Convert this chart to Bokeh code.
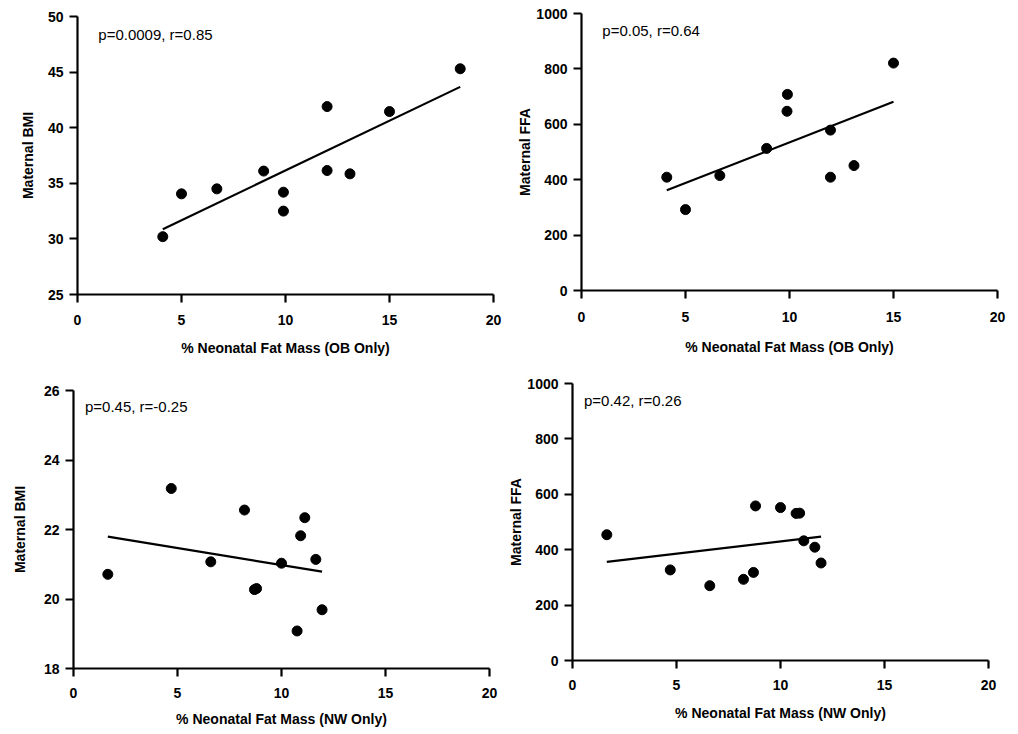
import numpy as np
from bokeh.plotting import figure
from bokeh.layouts import row, column
from bokeh.models import Range1d, FixedTicker, Label
from bokeh.embed import file_html
from bokeh.resources import INLINE

# ---------------- data ----------------
# OB group: % neonatal fat mass vs maternal BMI
ob_bmi_fat = [4.1, 5.0, 6.7, 8.95, 9.9, 9.9, 12.0, 12.0, 13.1, 15.0, 18.4]
ob_bmi = [30.2, 34.05, 34.5, 36.1, 34.2, 32.5, 41.9, 36.15, 35.85, 41.45, 45.3]

# OB group: % neonatal fat mass vs maternal FFA
ob_ffa_fat = [4.1, 5.0, 6.65, 8.9, 9.9, 9.88, 11.97, 11.97, 13.1, 15.0]
ob_ffa = [409, 292, 415, 513, 708, 647, 579, 409, 451, 821]

# NW group
nw_fat = [1.65, 4.7, 6.6, 8.22, 8.7, 8.8, 10.0, 10.75, 10.92, 11.12, 11.65, 11.95]
nw_bmi = [20.71, 23.18, 21.07, 22.56, 20.27, 20.3, 21.03, 19.08, 21.82, 22.34, 21.14, 19.69]
nw_ffa = [454, 327, 270, 293, 318, 558, 552, 531, 532, 432, 409, 352]

x_ticks = [0, 5, 10, 15, 20]
bmi_ob_ticks = [25, 30, 35, 40, 45, 50]
bmi_nw_ticks = [18, 20, 22, 24, 26]
ffa_ticks = [0, 200, 400, 600, 800, 1000]

stats = ["p=0.0009, r=0.85", "p=0.05, r=0.64", "p=0.45, r=-0.25", "p=0.42, r=0.26"]
x_labels = ["% Neonatal Fat Mass (OB Only)", "% Neonatal Fat Mass (NW Only)"]
y_labels = ["Maternal BMI", "Maternal FFA"]

FONT = "Liberation Sans"


def panel(x, y, yr, yticks, xlabel, ylabel, note, note_pos, w, h,
          bl, br, bt, bb, ylab_standoff, xlab_standoff=12, xtick_standoff=12):
    p = figure(width=w, height=h, x_range=Range1d(0, 20), y_range=Range1d(*yr),
               output_backend="svg", toolbar_location=None,
               min_border_left=bl, min_border_right=br,
               min_border_top=bt, min_border_bottom=bb,
               background_fill_color="white", border_fill_color="white")
    p.outline_line_color = None
    p.xgrid.visible = False
    p.ygrid.visible = False
    p.xaxis.ticker = FixedTicker(ticks=x_ticks)
    p.yaxis.ticker = FixedTicker(ticks=yticks)
    for ax in (p.xaxis, p.yaxis):
        ax.axis_line_width = 2.2
        ax.axis_line_color = "black"
        ax.major_tick_line_width = 2.2
        ax.major_tick_line_color = "black"
        ax.major_tick_out = 8
        ax.major_tick_in = 0
        ax.minor_tick_line_color = None
        ax.major_label_text_font = FONT
        ax.major_label_text_font_style = "bold"
        ax.major_label_text_font_size = "14px"
        ax.major_label_text_color = "black"
        ax.major_label_text_line_height = 1.0
        ax.axis_label_text_font = FONT
        ax.axis_label_text_font_style = "bold"
        ax.axis_label_text_font_size = "14px"
        ax.axis_label_text_color = "black"
        ax.axis_label_text_line_height = 1.0
    p.xaxis.axis_label = xlabel
    p.yaxis.axis_label = ylabel
    p.xaxis.major_label_standoff = xtick_standoff
    p.xaxis.axis_label_standoff = xlab_standoff
    p.yaxis.major_label_standoff = 6
    p.yaxis.axis_label_standoff = ylab_standoff

    # least-squares regression line over the data range
    xa = np.asarray(x, dtype=float)
    ya = np.asarray(y, dtype=float)
    slope, icpt = np.polyfit(xa, ya, 1)
    fx = np.array([xa.min(), xa.max()])
    p.line(fx, slope * fx + icpt, line_width=2.2, line_color="black")
    p.scatter(x, y, size=10, fill_color="black", line_color="black")

    p.add_layout(Label(x=note_pos[0], y=note_pos[1], text=note,
                       text_font=FONT, text_font_size="15px", text_color="black",
                       text_align="left", text_baseline="alphabetic"))
    return p


p1 = panel(ob_bmi_fat, ob_bmi, (25, 50), bmi_ob_ticks, x_labels[0], y_labels[0],
           stats[0], (1.0, 48.4), 505, 370, 77, 12, 16, 76, 9)
p2 = panel(ob_ffa_fat, ob_ffa, (0, 1000), ffa_ticks, x_labels[0], y_labels[1],
           stats[1], (1.0, 940), 513, 370, 76, 21, 13, 80, 0,
           xlab_standoff=14, xtick_standoff=13)
p3 = panel(nw_fat, nw_bmi, (18, 26), bmi_nw_ticks, x_labels[1], y_labels[0],
           stats[2], (0.55, 25.54), 505, 364, 73, 16, 20, 66, 13,
           xlab_standoff=10, xtick_standoff=11)
p4 = panel(nw_fat, nw_ffa, (0, 1000), ffa_ticks, x_labels[1], y_labels[1],
           stats[3], (0.55, 940), 513, 364, 66, 30, 13, 74, 0,
           xlab_standoff=12, xtick_standoff=11)

# each figure in its own column so that rows do not align the plot frames
page = column(row(column(p1), column(p2)), row(column(p3), column(p4)))

open("out.html", "w").write(file_html(page, INLINE))
